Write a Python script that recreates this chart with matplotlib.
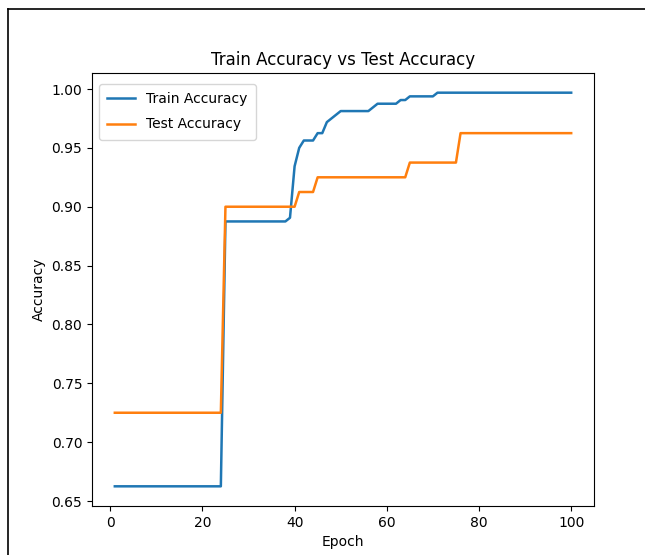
import numpy as np
import matplotlib.pyplot as plt
from matplotlib.lines import Line2D

# accuracy por epoch (320 muestras train, 80 test)
epochs = np.arange(1, 101)

train_acc = ([0.6625] * 24 + [0.8875] * 14 +
             [0.890625, 0.934375, 0.95, 0.95625, 0.95625, 0.95625,
              0.9625, 0.9625, 0.971875, 0.975, 0.978125] +
             [0.98125] * 7 + [0.984375] + [0.9875] * 5 + [0.990625] * 2 +
             [0.99375] * 6 + [0.996875] * 30)

test_acc = ([0.725] * 24 + [0.9] * 16 + [0.9125] * 4 + [0.925] * 20 +
            [0.9375] * 11 + [0.9625] * 25)

fig = plt.figure(figsize=(6.45, 5.55), dpi=100)
ax = fig.add_axes([92 / 645, 49 / 555, 502 / 645, 433 / 555])

ax.plot(epochs, train_acc, lw=1.8, label='Train Accuracy')
ax.plot(epochs, test_acc, lw=1.8, label='Test Accuracy')
ax.set_title('Train Accuracy vs Test Accuracy', fontsize=12)
ax.set_xlabel('Epoch')
ax.set_ylabel('Accuracy')
ax.legend(loc='upper left', bbox_to_anchor=(0, 1 - 4 / 433),
          labelspacing=0.8, borderpad=0.6)

# borde de la captura
fig.add_artist(Line2D([8 / 645, 1], [1 - 9 / 555, 1 - 9 / 555],
                      color='black', lw=1.2, transform=fig.transFigure))
fig.add_artist(Line2D([8 / 645, 8 / 645], [0, 1 - 9 / 555],
                      color='black', lw=1.2, transform=fig.transFigure))

fig.savefig('out.png', dpi=100)
